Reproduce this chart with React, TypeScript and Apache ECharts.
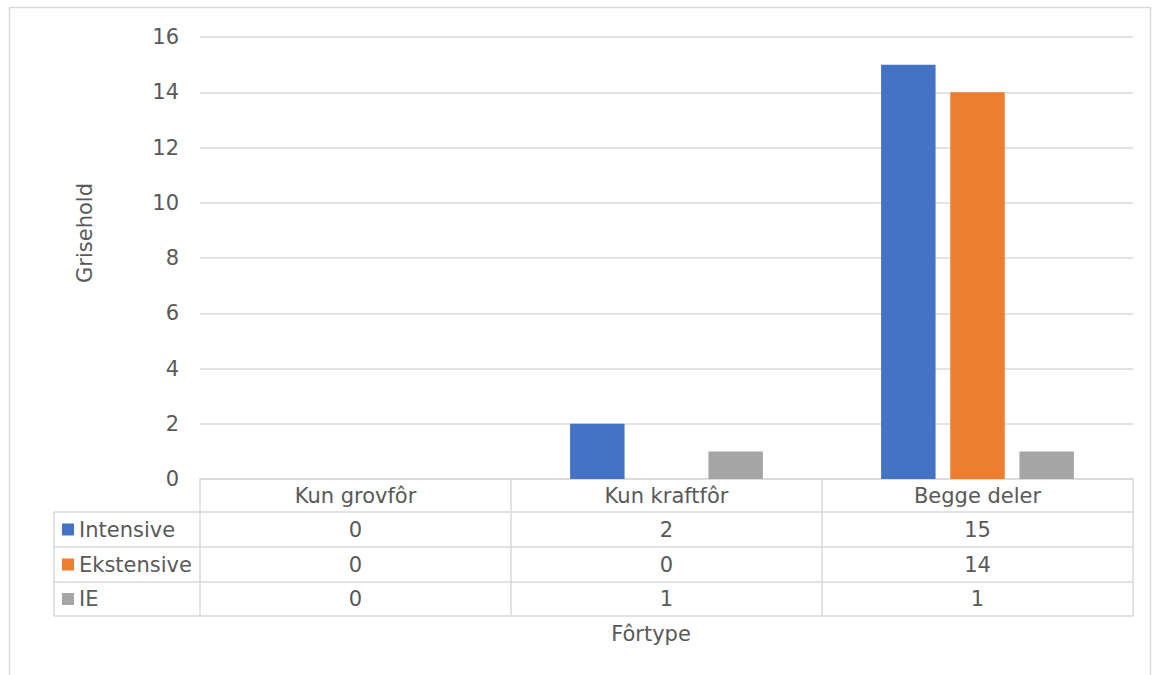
import React, { useEffect, useRef } from "react";
import * as echarts from "echarts";

const categories = ["Kun grovfôr", "Kun kraftfôr", "Begge deler"];
const seriesNames = ["Intensive", "Ekstensive", "IE"];
const intensive = [0, 2, 15];
const ekstensive = [0, 0, 14];
const ie = [0, 1, 1];
const colors = ["#4472C4", "#ED7D31", "#A5A5A5"];
const yTicks = { min: 0, max: 16, interval: 2 };

const FONT = "DejaVu Sans, Verdana, sans-serif";
const TXT = "#595959";
const LINE = "#d9d9d9";

export default function App() {
  const ref = useRef<HTMLDivElement>(null);
  useEffect(() => {
    const chart = echarts.init(ref.current!, null, { renderer: "svg" });
    const values = [intensive, ekstensive, ie];
    chart.setOption({
      animation: false,
      textStyle: { fontFamily: FONT },
      grid: { left: 200, right: 20, top: 37, bottom: 196 },
      xAxis: {
        type: "category",
        data: categories,
        axisLine: { show: true, lineStyle: { color: LINE, width: 1.5 } },
        axisTick: { show: false },
        axisLabel: { fontSize: 21, color: TXT, margin: 17, verticalAlign: "middle", fontFamily: FONT },
      },
      yAxis: {
        type: "value",
        min: yTicks.min,
        max: yTicks.max,
        interval: yTicks.interval,
        axisLine: { show: false },
        axisTick: { show: false },
        axisLabel: { fontSize: 21, color: TXT, margin: 21, fontFamily: FONT },
        splitLine: { lineStyle: { color: LINE, width: 1.5 } },
      },
      series: seriesNames.map((n, i) => ({
        name: n,
        type: "bar",
        data: values[i],
        itemStyle: { color: colors[i] },
        barGap: "27%",
        barCategoryGap: "38%",
      })),
    });

    const rowTops = [479, 512, 547, 582, 616];
    const colX = [200, 511, 822, 1133];
    const legendLeft = 54;
    const els: any[] = [];
    els.push({
      type: "rect",
      shape: { x: 9.5, y: 7.5, width: 1141, height: 700 },
      style: { fill: "none", stroke: LINE, lineWidth: 1.5 },
      silent: true,
    });
    for (let r = 1; r < rowTops.length; r++) {
      els.push({
        type: "line",
        shape: { x1: legendLeft, y1: rowTops[r], x2: colX[3], y2: rowTops[r] },
        style: { stroke: LINE, lineWidth: 1.5 },
      });
    }
    colX.forEach((x) => {
      els.push({
        type: "line",
        shape: { x1: x, y1: rowTops[0], x2: x, y2: rowTops[4] },
        style: { stroke: LINE, lineWidth: 1.5 },
      });
    });
    els.push({
      type: "line",
      shape: { x1: legendLeft, y1: rowTops[1], x2: legendLeft, y2: rowTops[4] },
      style: { stroke: LINE, lineWidth: 1.5 },
    });
    seriesNames.forEach((n, i) => {
      const cy = (rowTops[i + 1] + rowTops[i + 2]) / 2;
      els.push({
        type: "rect",
        shape: { x: 62, y: cy - 6, width: 12, height: 12 },
        style: { fill: colors[i] },
      });
      els.push({
        type: "text",
        x: 79,
        y: cy,
        style: { text: n, fontSize: 21, fill: TXT, fontFamily: FONT, verticalAlign: "middle", align: "left" },
      });
      categories.forEach((c, j) => {
        const cx = chart.convertToPixel({ xAxisIndex: 0 }, c) as number;
        els.push({
          type: "text",
          x: cx,
          y: cy,
          style: { text: String(values[i][j]), fontSize: 21, fill: TXT, fontFamily: FONT, verticalAlign: "middle", align: "center" },
        });
      });
    });
    els.push({
      type: "text",
      x: 651,
      y: 634,
      style: { text: "Fôrtype", fontSize: 21, fill: TXT, fontFamily: FONT, verticalAlign: "middle", align: "center" },
    });
    els.push({
      type: "text",
      x: 85,
      y: 233,
      rotation: Math.PI / 2,
      style: { text: "Grisehold", fontSize: 21, fill: TXT, fontFamily: FONT, verticalAlign: "middle", align: "center" },
    });
    chart.setOption({ graphic: { elements: els } });
    return () => chart.dispose();
  }, []);
  return (
    <div
      ref={ref}
      style={{ position: "fixed", left: 0, top: 0, width: 1153, height: 675, background: "#fff" }}
    />
  );
}
